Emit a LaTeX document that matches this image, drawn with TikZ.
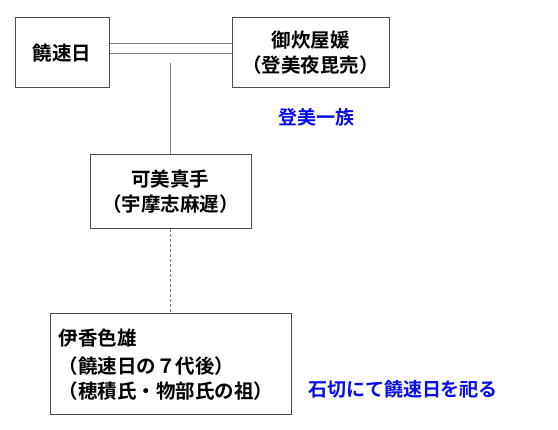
\documentclass[tikz,border=0pt]{standalone}
\usepackage{fontspec}
\setmainfont{Noto Sans CJK JP}[BoldFont={* Bold}]
\usetikzlibrary{positioning}
\definecolor{tomiblue}{RGB}{10,10,240}

\begin{document}
\begin{tikzpicture}[x=1pt,y=-1pt,
  person/.style={draw=black!70, line width=1pt, fill=white, align=center,
    font=\fontsize{19.5}{25}\selectfont\bfseries, inner sep=0pt},
  note/.style={text=tomiblue, font=\fontsize{19}{24}\selectfont\bfseries}]
\useasboundingbox (0,0) rectangle (558,430);
\node[person, minimum width=94pt, minimum height=70pt] (hayahi) at (62,53) {饒速日};
\node[person, minimum width=157pt, minimum height=70pt] (kashiki) at (310.5,53) {御炊屋媛\\（登美夜毘売）};
\node[person, minimum width=161pt, minimum height=74pt] (umashi) at (170.5,192) {可美真手\\（宇摩志麻遅）};
\node[person, minimum width=241pt, minimum height=101pt, align=left, text width=223pt] (ikaga) at (170.5,364.5) {伊香色雄\\[3pt]（饒速日の７代後）\\（穂積氏・物部氏の祖）};
\node[note] (tomi) at (316,117) {登美一族};
\node[note] (ishi) at (403,389) {石切にて饒速日を祀る};
% marriage
\draw[black!50, line width=0.8pt] (hayahi.east) -- (kashiki.west);
\draw[black!50, line width=0.8pt] ([yshift=10pt]hayahi.east) -- ([yshift=10pt]kashiki.west);
\coordinate (marr) at (170.5,63);
% children
\draw[black!50, line width=0.8pt] (marr) -- (umashi.north);
\draw[black!50, line width=0.8pt, dash pattern=on 3pt off 2pt] (umashi.south) -- (ikaga.north);
\end{tikzpicture}
\end{document}
